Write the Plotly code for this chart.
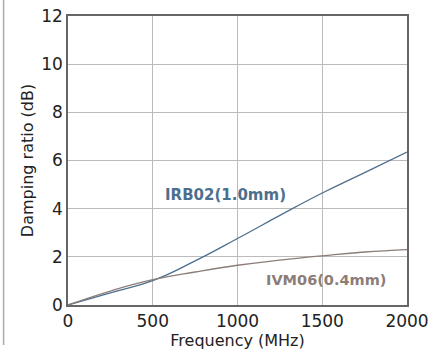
import plotly.graph_objects as go

freq = [0, 250, 500, 750, 1000, 1250, 1500, 1750, 2000]
irb02 = [0, 0.5, 1.01, 1.83, 2.76, 3.72, 4.65, 5.5, 6.35]
ivm06 = [0, 0.58, 1.05, 1.37, 1.65, 1.86, 2.04, 2.2, 2.3]

label_irb = "IRB02(1.0mm)"
label_ivm = "IVM06(0.4mm)"
x_title = "Frequency (MHz)"
y_title = "Damping ratio (dB)"

blue = "#4d6f8e"
brown = "#8c7d79"
font = "'DejaVu Sans', sans-serif"

fig = go.Figure()
fig.add_trace(go.Scatter(x=freq, y=irb02, mode="lines",
                         line=dict(color=blue, width=1.3, shape="spline", smoothing=1.3), showlegend=False))
fig.add_trace(go.Scatter(x=freq, y=ivm06, mode="lines",
                         line=dict(color=brown, width=1.3, shape="spline", smoothing=1.3), showlegend=False))

fig.add_annotation(x=932, y=4.56, text="<b>" + label_irb + "</b>", showarrow=False,
                   font=dict(color=blue, size=15, family=font), xanchor="center", yanchor="middle")
fig.add_annotation(x=1888, y=1.02, text="<b>" + label_ivm + "</b>", showarrow=False,
                   font=dict(color=brown, size=14.5, family=font), xanchor="right", yanchor="middle")

fig.add_shape(type="line", xref="paper", yref="paper", x0=-0.19, x1=-0.19, y0=-0.138, y1=1.06,
              line=dict(color="#aaaaaa", width=1.5), layer="above")

fig.update_layout(
    width=446, height=353,
    margin=dict(l=68, r=39, t=16, b=48, autoexpand=False),
    paper_bgcolor="white", plot_bgcolor="white",
    font=dict(family=font, color="#222", size=16),
)
fig.update_xaxes(range=[0, 2000], tickvals=[0, 500, 1000, 1500, 2000], showgrid=True, gridcolor="#bbbbbb", gridwidth=1,
                 showline=True, linecolor="#666", linewidth=1.5, mirror=True, zeroline=False, ticks="",
                 automargin=False, ticklabelstandoff=0,
                 title=dict(text=x_title, font=dict(size=16), standoff=0), tickfont=dict(size=17))
fig.update_yaxes(range=[0, 12], tickvals=[0, 2, 4, 6, 8, 10, 12], showgrid=True, gridcolor="#bbbbbb", gridwidth=1,
                 showline=True, linecolor="#666", linewidth=1.5, mirror=True, zeroline=False, ticks="",
                 automargin=False,
                 title=dict(text=y_title, font=dict(size=16), standoff=4), tickfont=dict(size=17))

fig.write_html("out.html", config={"displayModeBar": False},
               post_script="document.body.style.margin='0';")
